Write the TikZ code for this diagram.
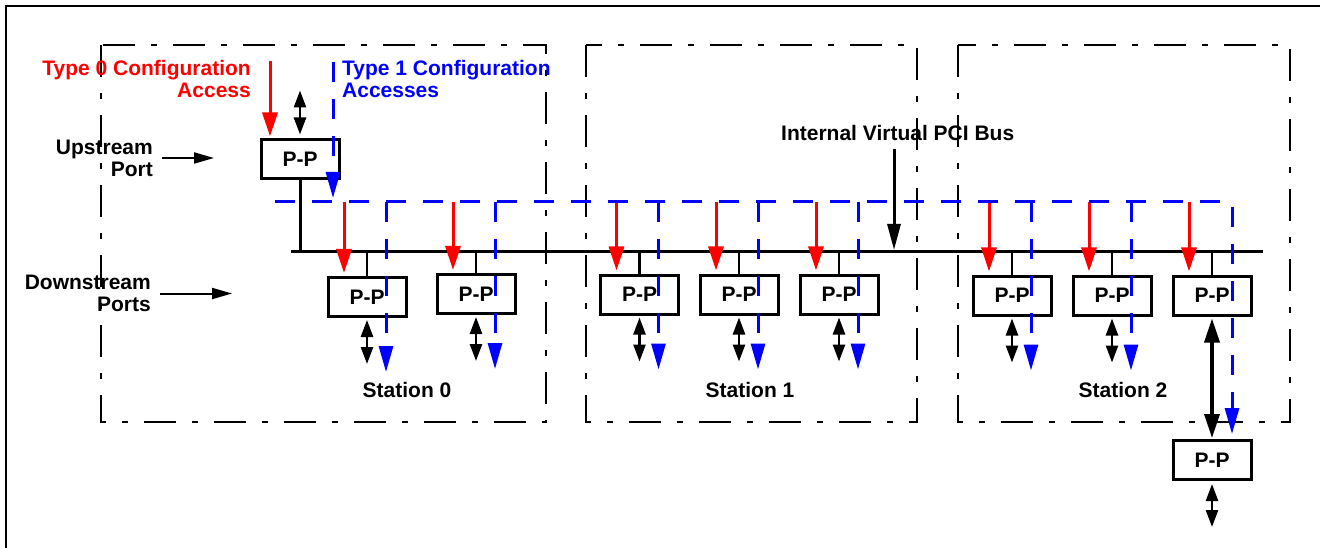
\documentclass[tikz,border=0pt]{standalone}
\usepackage{fontspec}
\setmainfont{Liberation Sans}
\usetikzlibrary{arrows.meta}
\begin{document}
\begin{tikzpicture}[x=1pt,y=-1pt,
  every node/.style={font=\fontsize{21}{22}\selectfont\bfseries, inner sep=0pt},
  pp/.style={draw, line width=3pt, minimum width=78pt, minimum height=39pt},
  stbox/.style={line width=2.2pt, dash pattern=on 32pt off 16pt on 6pt off 16pt},
  redarr/.style={red, line width=3pt, -{Triangle[width=15pt,length=24pt]}},
  bluearr/.style={blue, line width=3pt, dash pattern=on 20pt off 17pt, -{Triangle[width=14pt,length=26pt]}},
  dbl/.style={line width=2.5pt, {Triangle[width=12pt,length=17pt]}-{Triangle[width=12pt,length=17pt]}},
  bigdbl/.style={line width=3.5pt, {Triangle[width=15pt,length=24pt]}-{Triangle[width=15pt,length=24pt]}},
  lblarr/.style={line width=2pt, -{Triangle[width=11pt,length=20pt]}},
  ivarr/.style={line width=3pt, -{Triangle[width=13pt,length=26pt]}},
  busline/.style={line width=3pt},
  stub/.style={line width=2.5pt}]
\useasboundingbox (0,0) rectangle (1320,548);
% outer frame
\draw[line width=2.5pt] (6,560) -- (6,6) -- (1330,6);
% stations
\draw[stbox] (101,45) rectangle (546,422);
\draw[stbox] (586,45) rectangle (917,422);
\draw[stbox] (958,45) rectangle (1290,422);
\node (st0) at (407,390) {Station 0};
\node (st1) at (750,390) {Station 1};
\node (st2) at (1123,390) {Station 2};
% texts
\node[anchor=east, align=right, text=red] (t0txt) at (251,79) {Type 0 Configuration\\Access};
\node[anchor=west, align=left, text=blue] (t1txt) at (342,79) {Type 1 Configuration\\Accesses};
\node[anchor=east, align=right] (uptxt) at (153,158) {Upstream\\Port};
\node[anchor=east, align=right] (dntxt) at (151,293.5) {Downstream\\Ports};
\node[anchor=west] (ivtxt) at (781,133) {Internal Virtual PCI Bus};
% boxes
\node[pp] (up) at (300,159.5) {P-P};
\node[pp] (s0a) at (367,297) {P-P};
\node[pp] (s0b) at (476,294) {P-P};
\node[pp] (s1a) at (639.5,294.5) {P-P};
\node[pp] (s1b) at (739,294.5) {P-P};
\node[pp] (s1c) at (839,294.5) {P-P};
\node[pp] (s2a) at (1012,295.5) {P-P};
\node[pp] (s2b) at (1112,295.5) {P-P};
\node[pp] (s2c) at (1212,295.5) {P-P};
\node[pp] (g) at (1212,460) {P-P};
% coordinates
\coordinate (busL) at (291,252);
\coordinate (busR) at (1263,252);
\coordinate (bl) at (275,202);
\coordinate (t0) at (270,61);
\coordinate (t1) at (333,62);
\coordinate (ivs) at (894,149);
% bus
\draw[busline] (busL) -- (busR);
\draw[busline] (up.south) -- (up.south |- busL);
\foreach \b in {s0a,s0b,s1a,s1b,s1c,s2a,s2b,s2c}
  \draw[stub] (\b.north) -- (\b.north |- busL);
% label arrows
\draw[lblarr] ([xshift=9pt]uptxt.east) -- ++(52,0);
\draw[lblarr] ([xshift=9pt]dntxt.east) -- ++(72,0);
\draw[ivarr] (ivs) -- ([yshift=2pt]ivs |- busL);
% red arrows
\draw[redarr] (t0) -- ([yshift=2pt]t0 |- up.north);
\foreach \b in {s0a,s0b,s1a,s1b,s1c,s2a,s2b,s2c}
  \draw[redarr] ([xshift=-23pt]\b.north |- bl) -- ([xshift=-23pt,yshift=3pt]\b.north);
% black double arrows
\draw[dbl] ([yshift=4pt]up.north) -- ([yshift=48pt]up.north);
\foreach \b in {s0a,s0b,s1a,s1b,s1c,s2a,s2b}
  \draw[dbl] ([yshift=-2pt]\b.south) -- ([yshift=-46pt]\b.south);
\draw[bigdbl] ([yshift=-2pt]s2c.south) -- ([yshift=1pt]g.north);
\draw[dbl] ([yshift=-3pt]g.south) -- ([yshift=-46pt]g.south);
% blue
\draw[bluearr] (t1) -- ([yshift=4pt]t1 |- bl);
\foreach \b in {s0a,s0b,s1a,s1b,s1c,s2a,s2b}
  \draw[bluearr] ([xshift=19pt]\b.north |- bl) -- ([xshift=19pt,yshift=-54pt]\b.south);
\draw[bluearr] (bl) -- ([xshift=20pt]g.north |- bl) -- ([xshift=20pt,yshift=5pt]g.north);
\end{tikzpicture}
\end{document}
